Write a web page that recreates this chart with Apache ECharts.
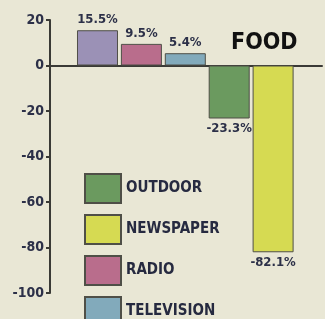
<!DOCTYPE html>
<html>
<head>
<meta charset="utf-8">
<script src="https://cdn.jsdelivr.net/npm/echarts@6/dist/echarts.min.js"></script>
<style>
  html, body { margin: 0; padding: 0; background: #e9e7d5; }
  #main { width: 325px; height: 319px; }
</style>
</head>
<body>
<div id="main"></div>
<script>
// media categories, in bar order
var categories = ['MAGAZINES', 'RADIO', 'TELEVISION', 'OUTDOOR', 'NEWSPAPER'];
// change in ad spend, %
var values = [15.5, 9.5, 5.4, -23.3, -82.1];
var colors = ['#9b91b6', '#b96d8c', '#82aabb', '#6b9a5f', '#d6da52'];
// legend entries shown in the picture
var legendNames = ['OUTDOOR', 'NEWSPAPER', 'RADIO', 'TELEVISION'];

var myChart = echarts.init(document.getElementById('main'));

var narrow = "'Liberation Sans Narrow', 'DejaVu Sans Condensed', sans-serif";

// one series per medium so each gets its own legend entry
var series = categories.map(function (name, i) {
    return {
        name: name,
        type: 'bar',
        stack: 'all',
        barWidth: 41,
        data: [[i, values[i]]],
        itemStyle: {
            color: colors[i],
            borderColor: '#4f4f47',
            borderWidth: 1
        },
        label: {
            show: true,
            position: values[i] >= 0 ? 'top' : 'bottom',
            distance: 4,
            formatter: function (p) {
                return p.value[1].toFixed(1) + '%';
            },
            fontFamily: narrow,
            fontWeight: 'bold',
            fontSize: 13,
            color: '#2c3048'
        }
    };
});

var option = {
    backgroundColor: '#e9e7d5',
    animation: false,
    title: {
        text: 'FOOD',
        left: 226,
        top: 27,
        textStyle: {
            fontFamily: "'DejaVu Sans Condensed', sans-serif",
            fontWeight: 'bold',
            fontSize: 23,
            color: '#111111'
        }
    },
    legend: {
        data: legendNames,
        orient: 'vertical',
        left: 84,
        top: 173,
        height: 200,
        padding: 0,
        itemWidth: 36,
        itemHeight: 29,
        itemGap: 10,
        icon: 'rect',
        textStyle: {
            fontFamily: narrow,
            fontWeight: 'bold',
            fontSize: 15,
            color: '#262a40'
        }
    },
    grid: {
        left: 50,
        right: 3,
        top: 20,
        bottom: 26,
        containLabel: false
    },
    xAxis: {
        type: 'value',
        min: -1.082,
        max: 5.114,
        axisLine: {
            show: true,
            onZero: true,
            lineStyle: { color: '#3a3a36', width: 2 }
        },
        axisTick: { show: false },
        axisLabel: { show: false },
        splitLine: { show: false }
    },
    yAxis: {
        type: 'value',
        min: -100,
        max: 20,
        interval: 20,
        axisLine: {
            show: true,
            onZero: false,
            lineStyle: { color: '#3a3a36', width: 2 }
        },
        axisTick: {
            show: true,
            length: 4,
            lineStyle: { color: '#3a3a36', width: 2 }
        },
        axisLabel: {
            margin: 6,
            fontFamily: narrow,
            fontWeight: 'bold',
            fontSize: 14,
            color: '#2c3048'
        },
        splitLine: { show: false }
    },
    series: series
};

myChart.setOption(option);
</script>
</body>
</html>
